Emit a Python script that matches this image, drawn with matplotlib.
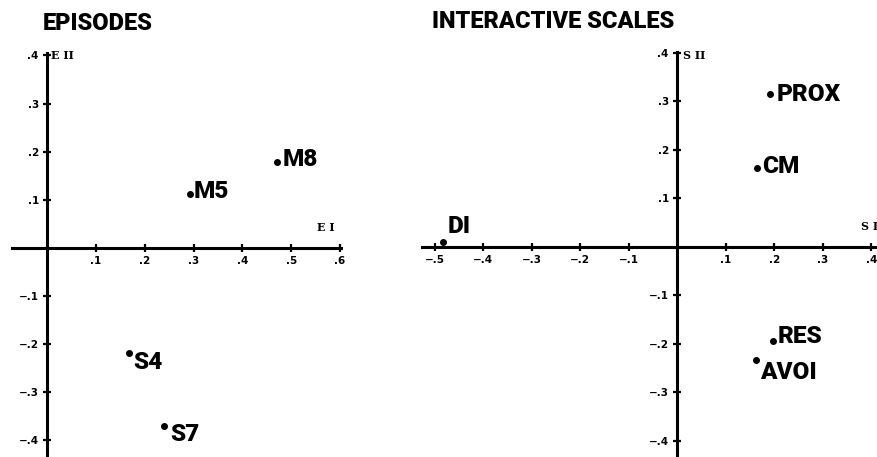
import matplotlib
matplotlib.use("Agg")
import matplotlib.pyplot as plt

# ---- data ----
episode_names = ["M5", "M8", "S4", "S7"]
episode_x = [0.292, 0.471, 0.167, 0.239]
episode_y = [0.112, 0.179, -0.219, -0.371]

scale_names = ["DI", "PROX", "CM", "RES", "AVOI"]
scale_x = [-0.482, 0.192, 0.165, 0.198, 0.163]
scale_y = [0.010, 0.315, 0.163, -0.193, -0.232]

ep_xticks = [0.1, 0.2, 0.3, 0.4, 0.5, 0.6]
ep_xticklabels = [".1", ".2", ".3", ".4", ".5", ".6"]
ep_yticks = [0.4, 0.3, 0.2, 0.1, -0.1, -0.2, -0.3, -0.4]
ep_yticklabels = [".4", ".3", ".2", ".1", "−.1", "−.2", "−.3", "−.4"]

sc_xticks = [-0.5, -0.4, -0.3, -0.2, -0.1, 0.1, 0.2, 0.3, 0.4]
sc_xticklabels = ["−.5", "−.4", "−.3", "−.2", "−.1", ".1", ".2", ".3", ".4"]
sc_yticks = [0.4, 0.3, 0.2, 0.1, -0.1, -0.2, -0.3, -0.4]
sc_yticklabels = [".4", ".3", ".2", ".1", "−.1", "−.2", "−.3", "−.4"]

# ---- styles (label offsets in pixels) ----
ep_offsets = [(4, 2), (6, 2), (5, -9), (6, -8)]
sc_offsets = [(4, 16), (6, 0), (5, 1), (4, 4), (4, -13)]

COND = dict(family="Roboto", fontstretch="condensed", fontweight=900)
W, H = 878, 457
fig = plt.figure(figsize=(W / 100, H / 100), dpi=100)


def make_axes(left_px, right_px, top_px, xlim, ylim):
    ax = fig.add_axes([left_px / W, 0, (right_px - left_px) / W, (H - top_px) / H])
    ax.set_xlim(*xlim)
    ax.set_ylim(*ylim)
    for s in ["top", "right"]:
        ax.spines[s].set_visible(False)
    for s in ["left", "bottom"]:
        ax.spines[s].set_position("zero")
        ax.spines[s].set_linewidth(2.2)
        ax.spines[s].set_color("black")
    ax.tick_params(direction="inout", length=6, width=1.6, labelsize=7.5, pad=3)
    ax.patch.set_alpha(0)
    return ax


def style_ticklabels(ax):
    for lab in ax.get_xticklabels() + ax.get_yticklabels():
        lab.set_fontweight("bold")
        lab.set_family("DejaVu Sans")


# Left panel: EPISODES
ax1 = make_axes(12, 341, 53, (-0.072, 0.602), (-0.435, 0.405))
ax1.set_xticks(ep_xticks)
ax1.set_xticklabels(ep_xticklabels)
ax1.set_yticks(ep_yticks)
ax1.set_yticklabels(ep_yticklabels)
style_ticklabels(ax1)
ax1.plot(episode_x, episode_y, "o", color="black", markersize=4, clip_on=False)
for name, x, y, off in zip(episode_names, episode_x, episode_y, ep_offsets):
    ax1.annotate(name, (x, y), xytext=off, textcoords="offset pixels",
                 ha="left", va="center", fontsize=17.5, **COND)
ax1.text(0.588, 0.03, "E I", ha="right", va="bottom", fontsize=8,
         fontweight="bold", family="DejaVu Serif")
ax1.text(0.008, 0.4, "E II", ha="left", va="center", fontsize=8,
         fontweight="bold", family="DejaVu Serif")

# Right panel: INTERACTIVE SCALES
ax2 = make_axes(422, 878, 52, (-0.526, 0.414), (-0.433, 0.402))
ax2.set_xticks(sc_xticks)
ax2.set_xticklabels(sc_xticklabels)
ax2.set_yticks(sc_yticks)
ax2.set_yticklabels(sc_yticklabels)
style_ticklabels(ax2)
ax2.plot(scale_x, scale_y, "o", color="black", markersize=4, clip_on=False)
for name, x, y, off in zip(scale_names, scale_x, scale_y, sc_offsets):
    ax2.annotate(name, (x, y), xytext=off, textcoords="offset pixels",
                 ha="left", va="center", fontsize=17.5, **COND)
ax2.text(0.414, 0.03, "S I", ha="right", va="bottom", fontsize=8,
         fontweight="bold", family="DejaVu Serif")
ax2.text(0.012, 0.395, "S II", ha="left", va="center", fontsize=8,
         fontweight="bold", family="DejaVu Serif")

# Titles
fig.text(43 / W, 1 - 23 / H, "EPISODES", ha="left", va="center",
         fontsize=17, **COND)
fig.text(432 / W, 1 - 21 / H, "INTERACTIVE SCALES", ha="left", va="center",
         fontsize=17, **COND)

fig.savefig("out.png", dpi=100)
